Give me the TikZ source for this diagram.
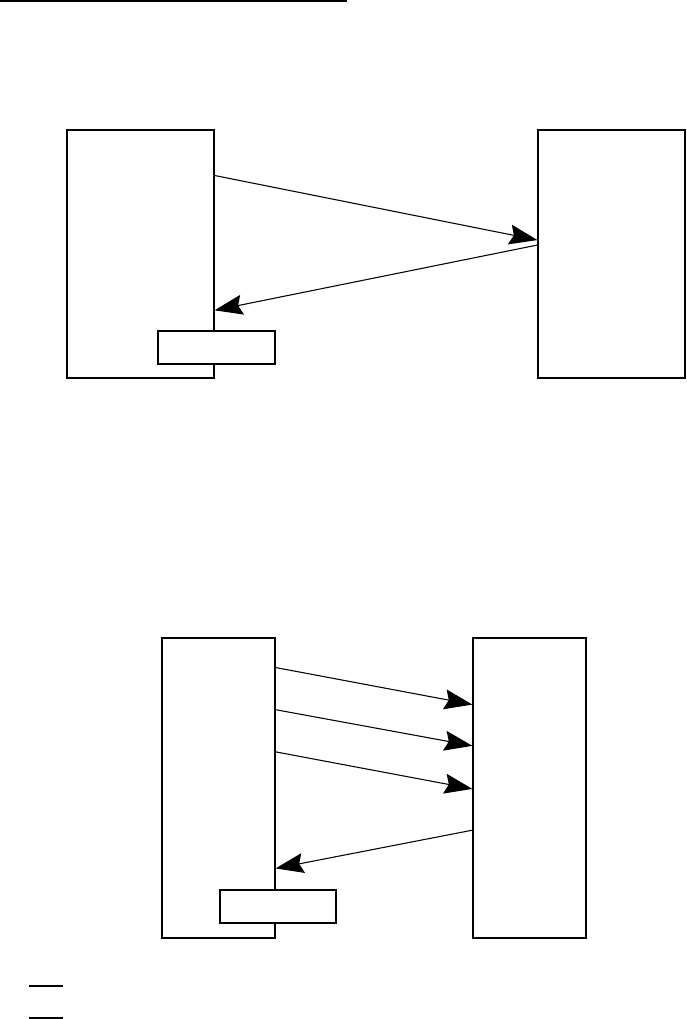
\documentclass[tikz,border=0pt]{standalone}
\usetikzlibrary{arrows.meta,calc}

\begin{document}
\begin{tikzpicture}[
        x=0.75pt, y=-0.75pt,
        box/.style={
            draw=black,
            fill=white,
            line width=0.9pt,
            inner sep=0pt
        },
        tag/.style={
            box,
            minimum height=24.75pt
        },
        arrow/.style={-{Stealth[length=21pt, width=15pt, inset=3pt]}, line width=0.8pt, draw=black},
        rule/.style={line width=1.1pt, draw=black}
    ]
        \useasboundingbox (0,0) rectangle (686,1019);

        \draw[rule] (0,1) -- (347,1);

        % first exchange
        \node[box, minimum width=110.25pt, minimum height=186pt] (cliA) at (140.5,254) {};
        \node[box, minimum width=110.25pt, minimum height=186pt] (srvA) at (611.5,254) {};
        \node[tag, minimum width=87.75pt] (tagA) at (216.5,347.5) {};

        \draw[arrow] ($(cliA.north east)!0.185!(cliA.south east)$) -- ($(srvA.north west)!0.444!(srvA.south west)$);
        \draw[arrow] ($(srvA.north west)!0.464!(srvA.south west)$) -- ($(cliA.north east)!0.726!(cliA.south east)$);

        % second exchange
        \node[box, minimum width=84.75pt, minimum height=225pt] (cliB) at (218.5,788) {};
        \node[box, minimum width=84.75pt, minimum height=225pt] (srvB) at (529.5,788) {};
        \node[tag, minimum width=87pt] (tagB) at (278,906.5) {};

        \draw[arrow] ($(cliB.north east)!0.10!(cliB.south east)$) -- ($(srvB.north west)!0.223!(srvB.south west)$);
        \draw[arrow] ($(cliB.north east)!0.24!(cliB.south east)$) -- ($(srvB.north west)!0.36!(srvB.south west)$);
        \draw[arrow] ($(cliB.north east)!0.38!(cliB.south east)$) -- ($(srvB.north west)!0.503!(srvB.south west)$);
        \draw[arrow] ($(srvB.north west)!0.64!(srvB.south west)$) -- ($(cliB.north east)!0.767!(cliB.south east)$);

        \draw[line width=1.5pt] (29,985.5) -- (63,985.5);
        \draw[line width=1.5pt] (29,1017.5) -- (63,1017.5);
    \end{tikzpicture}
\end{document}
